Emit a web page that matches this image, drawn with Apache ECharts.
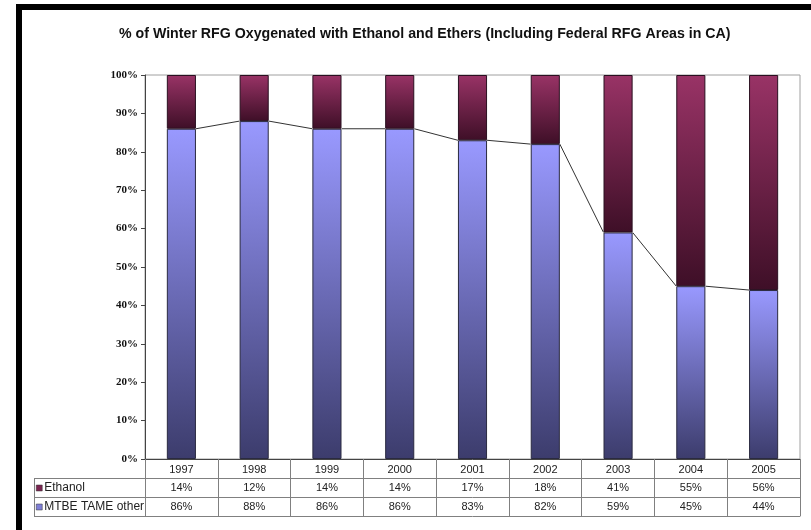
<!DOCTYPE html>
<html>
<head>
<meta charset="utf-8">
<script src="https://cdn.jsdelivr.net/npm/echarts@6/dist/echarts.min.js"></script>
<style>
html,body{margin:0;padding:0;background:#fff;}
#chart{width:811px;height:530px;}
</style>
</head>
<body>
<div id="chart"></div>
<script>
var titleText = '% of Winter RFG Oxygenated with Ethanol and Ethers (Including Federal RFG Areas in CA)';
var years = ['1997','1998','1999','2000','2001','2002','2003','2004','2005'];
var seriesNames = ['Ethanol','MTBE TAME other'];
var ethanol = [14, 12, 14, 14, 17, 18, 41, 55, 56];
var mtbe = [86, 88, 86, 86, 83, 82, 59, 45, 44];

var chart = echarts.init(document.getElementById('chart'), null, {renderer:'canvas'});

var sansFont = 'Liberation Sans, Arial, sans-serif';
var rowH = 19;
function tableAxis(offset, labels, showTicks) {
  return {
    type:'category', data: years, gridIndex:0, position:'bottom', offset: offset,
    axisLine:{show:true, lineStyle:{color:'#808080', width:1}},
    axisTick:{show:showTicks, length:rowH, lineStyle:{color:'#808080', width:1}},
    axisLabel:{show: !!labels, margin:4, interval:0,
      fontFamily:sansFont, fontSize:11, color:'#222',
      formatter: function(v, i){ return labels ? labels[i] : ''; }},
    splitLine:{show:false}
  };
}
var ethanolLabels = ethanol.map(function(v){return v+'%';});
var mtbeLabels = mtbe.map(function(v){return v+'%';});

var xAxes = [
  {
    type:'category', data: years, gridIndex:0, position:'bottom', offset:0,
    axisLine:{show:true, lineStyle:{color:'#444', width:1}},
    axisTick:{show:true, length:rowH, lineStyle:{color:'#808080', width:1}},
    axisLabel:{margin:5, interval:0, fontFamily:sansFont, fontSize:11, color:'#222'},
    splitLine:{show:false}
  },
  tableAxis(rowH, ethanolLabels, true),
  tableAxis(rowH*2, mtbeLabels, true),
  tableAxis(rowH*3, null, false)
];

var option = {
  backgroundColor:'#ffffff',
  animation:false,
  title:{
    text: titleText, left:119, top:27, padding:0,
    textStyle:{fontFamily:sansFont, fontSize:14.2, fontWeight:'bold', color:'#111'}
  },
  legend:{
    orient:'vertical', left:36, top:481, padding:0, itemWidth:6, itemHeight:6, itemGap:5,
    selectedMode:false,
    textStyle:{fontFamily:sansFont, fontSize:12, color:'#222', lineHeight:14, padding:[0,0,0,-3]},
    data:[
      {name: seriesNames[0], icon:'rect', itemStyle:{color:'#7a2450', borderColor:'#333', borderWidth:0.5}},
      {name: seriesNames[1], icon:'rect', itemStyle:{color:'#7f7fd6', borderColor:'#333', borderWidth:0.5}}
    ]
  },
  grid:{left:145, right:11, top:75, bottom:71, show:true, borderColor:'#a0a0a0', borderWidth:1, backgroundColor:'transparent'},
  xAxis: xAxes,
  yAxis:{
    type:'value', min:0, max:100, interval:10,
    axisLine:{show:true, lineStyle:{color:'#444'}},
    axisTick:{show:true, length:4, lineStyle:{color:'#444'}},
    axisLabel:{formatter:'{value}%', fontFamily:'Liberation Serif, Times New Roman, serif', fontWeight:'bold', fontSize:11, color:'#111', margin:7},
    splitLine:{show:false}
  },
  graphic:[
    {type:'rect', shape:{x:16, y:4, width:6, height:526}, style:{fill:'#000'}, z:100},
    {type:'rect', shape:{x:16, y:4, width:795, height:6}, style:{fill:'#000'}, z:100},
    {type:'line', shape:{x1:34, y1:478.5, x2:145, y2:478.5}, style:{stroke:'#808080', lineWidth:1}},
    {type:'line', shape:{x1:34, y1:497.5, x2:145, y2:497.5}, style:{stroke:'#808080', lineWidth:1}},
    {type:'line', shape:{x1:34, y1:516.5, x2:145, y2:516.5}, style:{stroke:'#808080', lineWidth:1}},
    {type:'line', shape:{x1:34.5, y1:478, x2:34.5, y2:517}, style:{stroke:'#808080', lineWidth:1}}
  ],
  series:[
    {
      name: seriesNames[1], type:'bar', stack:'total', barWidth:'40%', xAxisIndex:0,
      data: mtbe,
      itemStyle:{
        borderColor:'#2a2a40', borderWidth:1,
        color: new echarts.graphic.LinearGradient(0,0,0,1,[
          {offset:0, color:'#9999ff'},
          {offset:1, color:'#3c3c6c'}
        ])
      }
    },
    {
      name: seriesNames[0], type:'bar', stack:'total', barWidth:'40%', xAxisIndex:0,
      data: ethanol,
      itemStyle:{
        borderColor:'#2a1020', borderWidth:1,
        color: new echarts.graphic.LinearGradient(0,0,0,1,[
          {offset:0, color:'#993366'},
          {offset:1, color:'#3e0f27'}
        ])
      }
    },
    {
      name:'series-lines', type:'custom', xAxisIndex:0, yAxisIndex:0, silent:true, z:5,
      data: mtbe.map(function(v,i){return [i, v];}),
      renderItem: function(params, api){
        var i = params.dataIndex;
        if (i >= mtbe.length - 1) return null;
        var p1 = api.coord([i, mtbe[i]]);
        var p2 = api.coord([i+1, mtbe[i+1]]);
        var hw = api.size([1,0])[0] * 0.4 / 2;
        return {type:'line', shape:{x1:p1[0]+hw, y1:p1[1], x2:p2[0]-hw, y2:p2[1]},
          style:{stroke:'#333', lineWidth:1}};
      }
    }
  ]
};
chart.setOption(option);
</script>
</body>
</html>
